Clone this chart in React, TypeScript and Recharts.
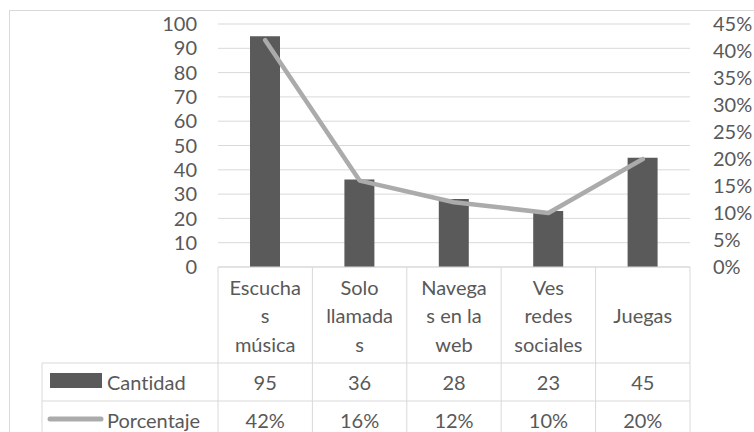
import { Bar, CartesianGrid, ComposedChart, Line, XAxis, YAxis } from "recharts";

const categories = ["Escucha s música", "Solo llamadas", "Navegas en la web", "Ves redes sociales", "Juegas"];
const categoryLines = [
  ["Escucha", "s", "música"],
  ["Solo", "llamada", "s"],
  ["Navega", "s en la", "web"],
  ["Ves", "redes", "sociales"],
  ["Juegas"],
];
const cantidad = [95, 36, 28, 23, 45];
const porcentaje = [0.42, 0.16, 0.12, 0.1, 0.2];
const porcentajeLabels = ["42%", "16%", "12%", "10%", "20%"];
const leftTicks = [0, 10, 20, 30, 40, 50, 60, 70, 80, 90, 100];
const rightTicks = [0, 0.05, 0.1, 0.15, 0.2, 0.25, 0.3, 0.35, 0.4, 0.45];

const data = categories.map((name, i) => ({
  name,
  cantidad: cantidad[i],
  porcentaje: porcentaje[i],
}));

const W = 754;
const H = 432;
const LEFT_W = 218;
const RIGHT_W = 64;
const TOP = 24;
const TABLE_H = 165;
const PLOT_W = W - LEFT_W - RIGHT_W;
const COL_W = PLOT_W / categories.length;

const TEXT = "#595959";
const GRID = "#d9d9d9";
const BAR = "#5a5a5a";
const LINE = "#ababab";
const FONT = 20;

const TableTick = (props: any) => {
  const { x, y, payload } = props;
  const i = props.index ?? payload.index;
  const lines = categoryLines[i] || [];
  const headH = 96;
  const lh = 28.5;
  const left = x - COL_W / 2;
  const right = x + COL_W / 2;
  const tableEnd = left + COL_W * (categories.length - i);
  return (
    <g>
      {lines.map((t, k) => (
        <text
          key={k}
          x={x}
          y={y + headH / 2 + (k - (lines.length - 1) / 2) * lh}
          textAnchor="middle"
          dominantBaseline="central"
          fill={TEXT}
          fontSize={FONT}
        >
          {t}
        </text>
      ))}
      <line x1={right} y1={y} x2={right} y2={H} stroke={GRID} />
      <text x={x} y={y + 115} textAnchor="middle" dominantBaseline="central" fill={TEXT} fontSize={FONT}>
        {cantidad[i]}
      </text>
      <text x={x} y={y + 153} textAnchor="middle" dominantBaseline="central" fill={TEXT} fontSize={FONT}>
        {porcentajeLabels[i]}
      </text>
      {i === 0 && (
        <g>
          <line x1={left} y1={y} x2={left} y2={H} stroke={GRID} />
          <line x1={42} y1={y + headH} x2={tableEnd} y2={y + headH} stroke={GRID} />
          <line x1={42} y1={y + 134} x2={tableEnd} y2={y + 134} stroke={GRID} />
          <line x1={42} y1={y + headH} x2={42} y2={H} stroke={GRID} />
          <rect x={50} y={y + 106} width={52} height={15} fill={BAR} />
          <text x={107} y={y + 115} dominantBaseline="central" fill={TEXT} fontSize={FONT}>
            Cantidad
          </text>
          <line x1={50} y1={y + 152} x2={101} y2={y + 152} stroke={LINE} strokeWidth={5} strokeLinecap="round" />
          <text x={107} y={y + 153} dominantBaseline="central" fill={TEXT} fontSize={FONT}>
            Porcentaje
          </text>
        </g>
      )}
    </g>
  );
};

export default function App() {
  return (
    <div style={{ position: "fixed", left: 0, top: 0, width: W, height: H, background: "#fff", overflow: "hidden" }}>
      <div
        style={{
          position: "absolute",
          left: 9,
          top: 10,
          width: W,
          height: H,
          borderLeft: `1px solid ${GRID}`,
          borderTop: `1px solid ${GRID}`,
        }}
      />
      <div style={{ position: "absolute", left: 0, top: 0, fontVariantLigatures: "none" }}>
        <ComposedChart
          width={W}
          height={H}
          data={data}
          margin={{ top: TOP, right: 0, bottom: 0, left: 0 }}
          style={{ fontFamily: "Lato", fontVariantLigatures: "none" }}
        >
          <CartesianGrid horizontal vertical={false} stroke={GRID} yAxisId="left" />
          <XAxis
            dataKey="name"
            height={TABLE_H}
            tickSize={0}
            tickMargin={0}
            interval={0}
            axisLine={{ stroke: GRID }}
            tickLine={false}
            tick={<TableTick />}
          />
          <YAxis
            yAxisId="left"
            width={LEFT_W}
            domain={[0, 100]}
            ticks={leftTicks}
            interval={0}
            tickSize={0}
            tickMargin={21}
            axisLine={false}
            tickLine={false}
            tick={{ fill: TEXT, fontSize: FONT }}
          />
          <YAxis
            yAxisId="right"
            orientation="right"
            width={RIGHT_W}
            domain={[0, 0.45]}
            ticks={rightTicks}
            interval={0}
            tickFormatter={(v: number) => `${Math.round(v * 100)}%`}
            tickSize={0}
            tickMargin={23}
            axisLine={false}
            tickLine={false}
            tick={{ fill: TEXT, fontSize: FONT, textAnchor: "start" }}
          />
          <Bar yAxisId="left" dataKey="cantidad" fill={BAR} barSize={30} isAnimationActive={false} />
          <Line
            yAxisId="right"
            type="linear"
            dataKey="porcentaje"
            stroke={LINE}
            strokeWidth={4.5}
            strokeLinecap="round"
            strokeLinejoin="round"
            dot={false}
            activeDot={false}
            isAnimationActive={false}
          />
        </ComposedChart>
      </div>
    </div>
  );
}
